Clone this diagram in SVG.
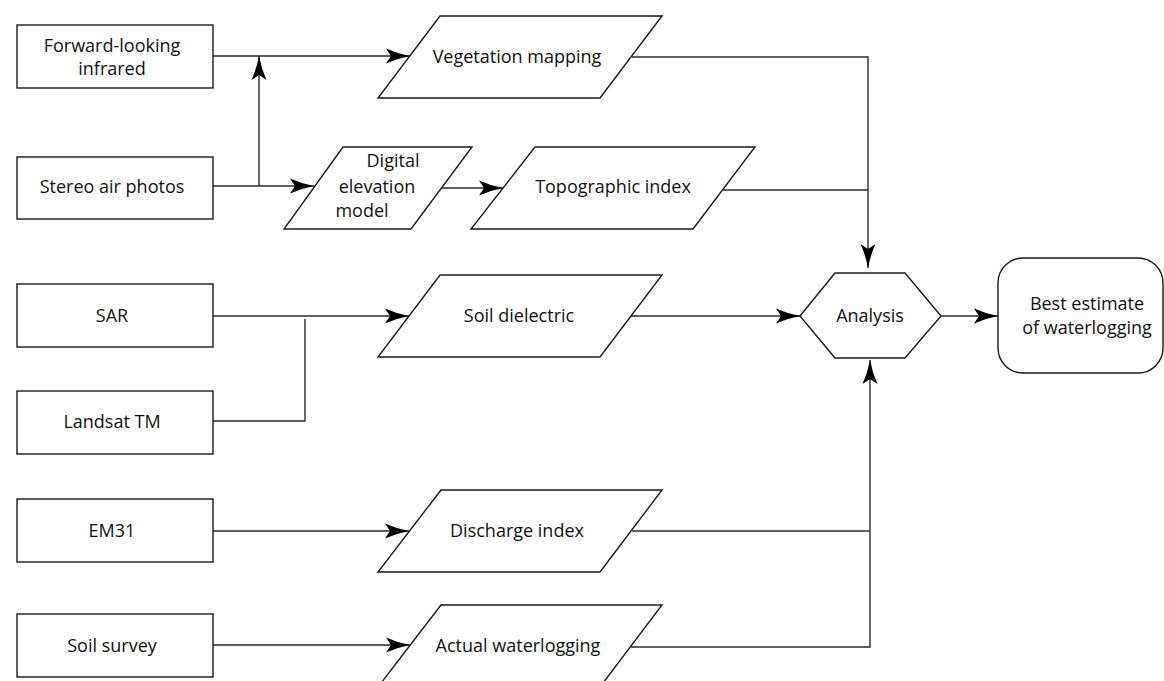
<svg xmlns="http://www.w3.org/2000/svg" width="1164" height="681" viewBox="0 0 1164 681">
  <style>
    .shape { fill: #ffffff; stroke: #1a1a1a; stroke-width: 1.4; }
    .link { fill: none; stroke: #2a2a2a; stroke-width: 1.4; }
    .label { font-family: "Open Sans", "Liberation Sans", sans-serif; font-size: 18px; fill: #111111; text-anchor: middle; }
  </style>
  <defs>
    <marker id="arrow" viewBox="-25 -8 26 16" refX="0" refY="0" markerWidth="26" markerHeight="16" markerUnits="userSpaceOnUse" orient="auto">
      <path d="M0,0 Q-13,-2.5 -24,-7.5 L-19,0 L-24,7.5 Q-13,2.5 0,0 Z" fill="#000000"/>
    </marker>
  </defs>
  <rect width="1164" height="681" fill="#ffffff"/>

  <!-- connectors -->
  <g id="connectors">
    <path class="link" d="M213,56 H410" marker-end="url(#arrow)"/>
    <path class="link" d="M213,186 H314" marker-end="url(#arrow)"/>
    <path class="link" d="M259,186 V56" marker-end="url(#arrow)"/>
    <path class="link" d="M442,188 H503" marker-end="url(#arrow)"/>
    <path class="link" d="M632,57 H868 V268" marker-end="url(#arrow)"/>
    <path class="link" d="M723,190 H868"/>
    <path class="link" d="M213,316 H409" marker-end="url(#arrow)"/>
    <path class="link" d="M213,421 H305 V319"/>
    <path class="link" d="M631,316 H800" marker-end="url(#arrow)"/>
    <path class="link" d="M941,316 H998" marker-end="url(#arrow)"/>
    <path class="link" d="M213,531 H409" marker-end="url(#arrow)"/>
    <path class="link" d="M632,531 H870"/>
    <path class="link" d="M213,645 H410" marker-end="url(#arrow)"/>
    <path class="link" d="M631,647 H870 V360" marker-end="url(#arrow)"/>
  </g>

  <!-- data sources -->
  <g id="flir">
    <rect class="shape" x="17" y="25" width="196" height="63"/>
    <text class="label" x="112" y="52">Forward-looking</text>
    <text class="label" x="112" y="75">infrared</text>
  </g>
  <g id="stereo">
    <rect class="shape" x="17" y="157" width="196" height="62"/>
    <text class="label" x="112" y="193">Stereo air photos</text>
  </g>
  <g id="sar">
    <rect class="shape" x="17" y="284" width="196" height="63"/>
    <text class="label" x="112" y="322">SAR</text>
  </g>
  <g id="landsat">
    <rect class="shape" x="17" y="391" width="196" height="63"/>
    <text class="label" x="112" y="428">Landsat TM</text>
  </g>
  <g id="em31">
    <rect class="shape" x="17" y="499" width="196" height="63"/>
    <text class="label" x="112" y="537">EM31</text>
  </g>
  <g id="soil-survey">
    <rect class="shape" x="17" y="614" width="196" height="63"/>
    <text class="label" x="112" y="652">Soil survey</text>
  </g>

  <!-- derived products -->
  <g id="vegetation">
    <polygon class="shape" points="440,16 662,16 600,98 378,98"/>
    <text class="label" x="517" y="63">Vegetation mapping</text>
  </g>
  <g id="dem">
    <polygon class="shape" points="343,147 472,147 411,229 284,229"/>
    <text class="label" x="393" y="167">Digital</text>
    <text class="label" x="377" y="193">elevation</text>
    <text class="label" x="362" y="217">model</text>
  </g>
  <g id="topographic">
    <polygon class="shape" points="535,147 755,147 693,229 471,229"/>
    <text class="label" x="613" y="193">Topographic index</text>
  </g>
  <g id="soil-dielectric">
    <polygon class="shape" points="440,275 662,275 600,357 378,357"/>
    <text class="label" x="519" y="322">Soil dielectric</text>
  </g>
  <g id="discharge">
    <polygon class="shape" points="441,490 662,490 600,572 378,572"/>
    <text class="label" x="517" y="537">Discharge index</text>
  </g>
  <g id="actual">
    <polygon class="shape" points="441,605 662,605 600,687 378,687"/>
    <text class="label" x="518" y="652">Actual waterlogging</text>
  </g>

  <!-- analysis and result -->
  <g id="analysis">
    <polygon class="shape" points="800,316 835,273 905,273 941,316 905,358 835,358"/>
    <text class="label" x="870" y="322">Analysis</text>
  </g>
  <g id="best-estimate">
    <rect class="shape" x="998" y="258" width="165" height="115" rx="25" ry="25"/>
    <text class="label" x="1087" y="310">Best estimate</text>
    <text class="label" x="1087" y="334">of waterlogging</text>
  </g>
</svg>
